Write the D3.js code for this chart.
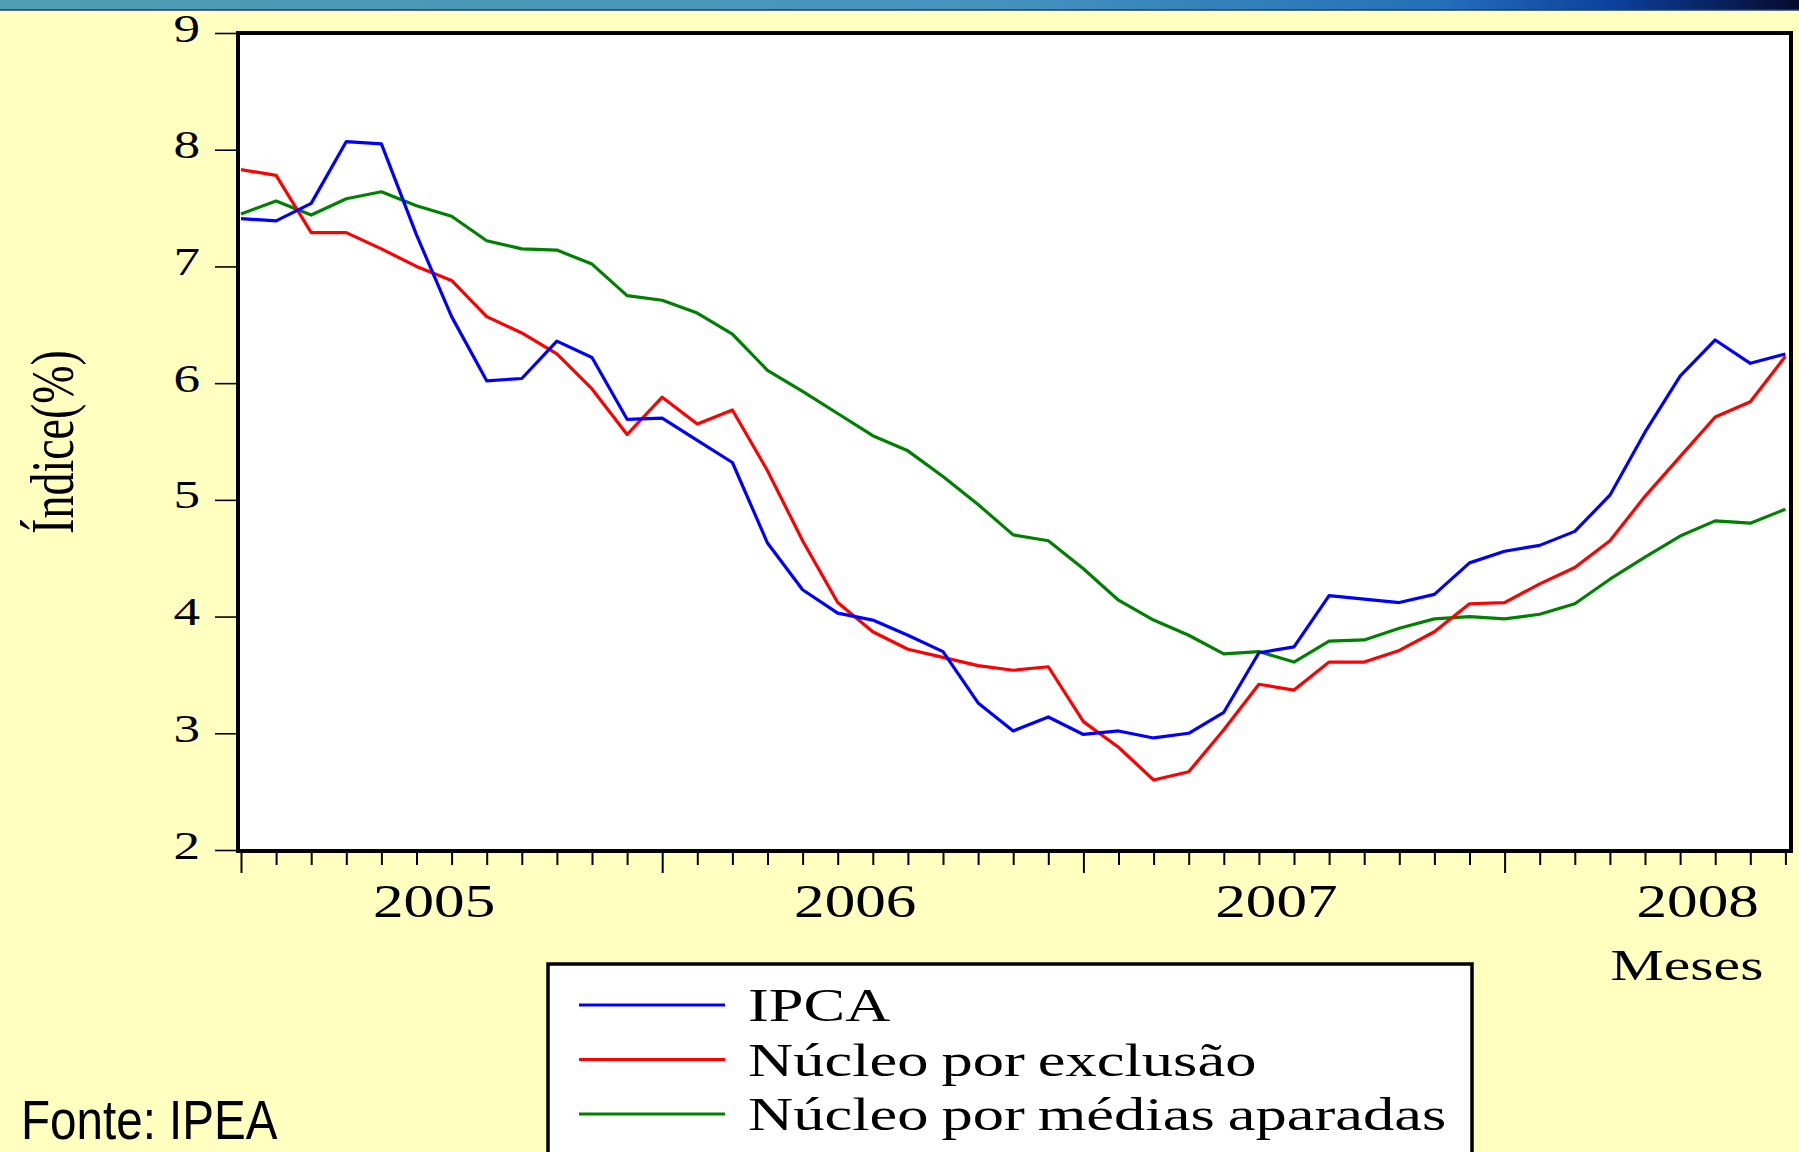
<!DOCTYPE html>
<html>
<head>
<meta charset="utf-8">
<script src="https://cdn.jsdelivr.net/npm/d3@7"></script>
<style>
  body { margin: 0; background: #ffffc0; overflow: hidden; }
  svg { display: block; }
</style>
</head>
<body>
<div id="chart"></div>
<script>
// monthly series, Jan 2005 .. Sep 2008 (12-month accumulated, %)
var years = ["2005", "2006", "2007", "2008"];
var monthNames = ["jan", "fev", "mar", "abr", "mai", "jun", "jul", "ago", "set", "out", "nov", "dez"];

var ipca = [7.41, 7.39, 7.54, 8.07, 8.05, 7.27, 6.57, 6.02, 6.04, 6.36, 6.22, 5.69,
  5.70, 5.51, 5.32, 4.63, 4.23, 4.03, 3.97, 3.84, 3.70, 3.26, 3.02, 3.14,
  2.99, 3.02, 2.96, 3.00, 3.18, 3.69, 3.74, 4.18, 4.15, 4.12, 4.19, 4.46,
  4.56, 4.61, 4.73, 5.04, 5.58, 6.06, 6.37, 6.17, 6.25];

var nucleoExclusao = [7.83, 7.78, 7.29, 7.29, 7.15, 7.00, 6.88, 6.57, 6.43, 6.25, 5.95, 5.56,
  5.88, 5.65, 5.77, 5.25, 4.65, 4.12, 3.87, 3.72, 3.65, 3.58, 3.54, 3.57,
  3.10, 2.88, 2.60, 2.67, 3.03, 3.42, 3.37, 3.61, 3.61, 3.71, 3.87, 4.11,
  4.12, 4.28, 4.42, 4.65, 5.03, 5.37, 5.71, 5.84, 6.23];

var nucleoMedias = [7.45, 7.56, 7.44, 7.58, 7.64, 7.52, 7.43, 7.22, 7.15, 7.14, 7.02, 6.75,
  6.71, 6.60, 6.42, 6.11, 5.93, 5.74, 5.55, 5.42, 5.20, 4.96, 4.70, 4.65,
  4.41, 4.14, 3.97, 3.84, 3.68, 3.70, 3.61, 3.79, 3.80, 3.90, 3.98, 4.00,
  3.98, 4.02, 4.11, 4.32, 4.51, 4.69, 4.82, 4.80, 4.92];

var yTicks = [2, 3, 4, 5, 6, 7, 8, 9];

var seriesNames = ["IPCA", "Núcleo por exclusão", "Núcleo por médias aparadas"];
var seriesColors = ["#0000ff", "#ff0000", "#008000"];

// month categories
var months = [];
years.forEach(function(yr) {
  monthNames.forEach(function(m) {
    if (months.length < ipca.length) months.push(m + "/" + yr);
  });
});

var W = 1799, H = 1152;
var frame = {left: 238, top: 33, right: 1791, bottom: 851};
var serif = "'Liberation Serif', 'Times New Roman', serif";
var stretch = 1.33; // the slide picture is stretched sideways

var svg = d3.select("#chart")
  .append("svg")
  .attr("width", W)
  .attr("height", H);

// top band of the slide
var grad = svg.append("defs").append("linearGradient")
  .attr("id", "band")
  .attr("x1", "0%").attr("x2", "100%");
grad.append("stop").attr("offset", "0%").attr("stop-color", "#4f9db2");
grad.append("stop").attr("offset", "55%").attr("stop-color", "#4593bd");
grad.append("stop").attr("offset", "80%").attr("stop-color", "#2470b8");
grad.append("stop").attr("offset", "90%").attr("stop-color", "#0b3f9a");
grad.append("stop").attr("offset", "100%").attr("stop-color", "#050a2e");

svg.append("rect")
  .attr("width", W).attr("height", 10)
  .attr("fill", "url(#band)");
svg.append("line")
  .attr("x1", 0).attr("x2", W).attr("y1", 10).attr("y2", 10)
  .attr("stroke", "#1c3c7a").attr("stroke-width", 1.5);

// scales
var x = d3.scaleLinear()
  .domain([0, months.length - 1])
  .range([241, 241 + 35.1 * (months.length - 1)]);

var y = d3.scaleLinear()
  .domain([2, 9])
  .range([850, 33]);

// plot area
svg.append("rect")
  .attr("x", frame.left).attr("y", frame.top)
  .attr("width", frame.right - frame.left)
  .attr("height", frame.bottom - frame.top)
  .attr("fill", "#ffffff");

// y axis
var yAxis = svg.append("g")
  .attr("transform", "translate(" + frame.left + ",0)")
  .call(d3.axisLeft(y).tickValues(yTicks).tickSize(23).tickPadding(15).tickFormat(d3.format("d")));
yAxis.select(".domain").remove();
yAxis.selectAll(".tick line").attr("stroke", "#000").attr("stroke-width", 1.6);
yAxis.selectAll(".tick text")
  .attr("x", -38 / stretch)
  .attr("y", 8)
  .attr("dy", null)
  .attr("transform", "scale(" + stretch + ",1)")
  .attr("font-family", serif)
  .attr("font-size", "40px")
  .attr("fill", "#000");

// x axis: one tick per month, long tick at each January
var xAxis = svg.append("g")
  .attr("transform", "translate(0," + frame.bottom + ")")
  .call(d3.axisBottom(x).tickValues(d3.range(months.length)).tickSize(14).tickFormat(""));
xAxis.select(".domain").remove();
xAxis.selectAll(".tick line")
  .attr("stroke", "#000")
  .attr("stroke-width", 2)
  .attr("y2", function(d) { return d % 12 === 0 ? 22 : 14; });

svg.append("g").selectAll("text")
  .data(years)
  .enter()
  .append("text")
  .attr("transform", function(d, i) {
    return "translate(" + x(i * 12 + 5.5) + ",917) scale(" + stretch + ",1)";
  })
  .attr("text-anchor", "middle")
  .attr("font-family", serif)
  .attr("font-size", "46px")
  .attr("fill", "#000")
  .text(function(d) { return d; });

svg.append("text")
  .attr("transform", "translate(1687,980) scale(" + stretch + ",1)")
  .attr("text-anchor", "middle")
  .attr("font-family", serif)
  .attr("font-size", "45px")
  .attr("fill", "#000")
  .text("Meses");

svg.append("text")
  .attr("transform", "translate(73,442) scale(" + stretch + ",1) rotate(-90)")
  .attr("text-anchor", "middle")
  .attr("font-family", serif)
  .attr("font-size", "46px")
  .attr("fill", "#000")
  .text("Índice(%)");

// series
var line = d3.line()
  .x(function(d, i) { return x(i); })
  .y(function(d) { return y(d); });

var allSeries = [ipca, nucleoExclusao, nucleoMedias];

svg.append("g").selectAll("path")
  .data([nucleoMedias, nucleoExclusao, ipca])
  .enter()
  .append("path")
  .attr("d", line)
  .attr("fill", "none")
  .attr("stroke", function(d) { return seriesColors[allSeries.indexOf(d)]; })
  .attr("stroke-width", 3.2)
  .attr("stroke-linejoin", "round");

// frame on top
svg.append("rect")
  .attr("x", frame.left).attr("y", frame.top)
  .attr("width", frame.right - frame.left)
  .attr("height", frame.bottom - frame.top)
  .attr("fill", "none")
  .attr("stroke", "#000")
  .attr("stroke-width", 4);

// legend
var legend = svg.append("g");
legend.append("rect")
  .attr("x", 548).attr("y", 964)
  .attr("width", 924).attr("height", 220)
  .attr("fill", "#ffffff")
  .attr("stroke", "#000")
  .attr("stroke-width", 3.5);

var rows = legend.selectAll("g.row")
  .data(seriesNames)
  .enter()
  .append("g")
  .attr("class", "row")
  .attr("transform", function(d, i) { return "translate(0," + (1005 + i * 54.5) + ")"; });

rows.append("line")
  .attr("x1", 579).attr("x2", 725)
  .attr("stroke", function(d, i) { return seriesColors[i]; })
  .attr("stroke-width", 3);

rows.append("text")
  .attr("transform", "translate(748,16) scale(" + stretch + ",1)")
  .attr("font-family", serif)
  .attr("font-size", "47px")
  .attr("word-spacing", "-2px")
  .attr("fill", "#000")
  .text(function(d) { return d; });

// source
svg.append("text")
  .attr("transform", "translate(21,1139) scale(0.85,1)")
  .attr("font-family", "'Liberation Sans', Arial, sans-serif")
  .attr("font-size", "56px")
  .attr("fill", "#000")
  .text("Fonte: IPEA");
</script>
</body>
</html>
